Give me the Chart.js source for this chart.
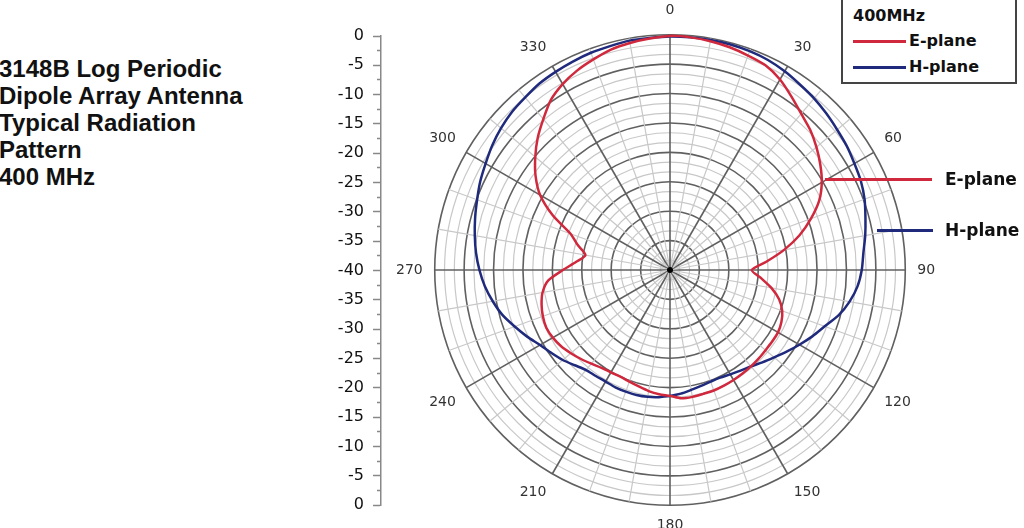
<!DOCTYPE html>
<html>
<head>
<meta charset="utf-8">
<script src="https://cdn.jsdelivr.net/npm/chart.js@4.4.0/dist/chart.umd.min.js"></script>
<style>
  html, body { margin: 0; padding: 0; background: #fff; }
  body { width: 1024px; height: 528px; position: relative; overflow: hidden; }
  #title { position: absolute; left: -1px; top: 55px; font: bold 24px "Liberation Sans", Arial, sans-serif; line-height: 27px; color: #111; }
  #axisBox { position: absolute; left: 290px; top: 0; width: 100px; height: 528px; }
  #polarBox { position: absolute; left: 392px; top: -6px; width: 548px; height: 548px; }
  #legend { position: absolute; left: 841px; top: -4px; width: 172px; height: 84px; border: 2px solid #444; background: #fff;
            font: bold 16px "DejaVu Sans", sans-serif; color: #111; }
  #legend .hd { position: absolute; left: 10px; top: 8px; }
  #legend .row { position: absolute; left: 10px; height: 20px; }
  #legend .sw { position: absolute; left: 0; top: 9px; width: 53px; height: 3px; }
  #legend .tx { position: absolute; left: 56px; top: 0; white-space: nowrap; }
  .note { position: absolute; font: bold 17px "DejaVu Sans", sans-serif; color: #111; white-space: nowrap; }
  .lead { position: absolute; height: 3px; }
</style>
</head>
<body>
<div id="title">3148B Log Periodic<br>Dipole Array Antenna<br>Typical Radiation<br>Pattern<br>400 MHz</div>

<div id="axisBox"><canvas id="axis" width="100" height="528"></canvas></div>
<div id="polarBox"><canvas id="polar" width="548" height="548"></canvas></div>

<div id="legend">
  <div class="hd">400MHz</div>
  <div class="row" style="top:33px"><div class="sw" style="background:#d0283c"></div><div class="tx">E-plane</div></div>
  <div class="row" style="top:59px"><div class="sw" style="background:#1f2a7c"></div><div class="tx">H-plane</div></div>
</div>

<div class="lead" style="left:825px; top:178px; width:107px; background:#d0283c"></div>
<div class="note" style="left:945px; top:169px">E-plane</div>
<div class="lead" style="left:877px; top:229px; width:56px; background:#1f2a7c"></div>
<div class="note" style="left:945px; top:220px">H-plane</div>

<script>
// angle of each sample, degrees clockwise from top
const angles = [0, 5, 10, 15, 20, 25, 30, 35, 40, 45, 50, 55,
    60, 65, 70, 75, 80, 85, 90, 95, 100, 105, 110, 115,
    120, 125, 130, 135, 140, 145, 150, 155, 160, 165, 170, 175,
    180, 185, 190, 195, 200, 205, 210, 215, 220, 225, 230, 235,
    240, 245, 250, 255, 260, 265, 270, 275, 280, 285, 290, 295,
    300, 305, 310, 315, 320, 325, 330, 335, 340, 345, 350, 355];

// relative level in dB
const ePlane = [-0.2, -0.3, -0.5, -0.8, -1.2, -1.6, -2.6, -4.0, -5.3, -6.3, -7.5, -8.8,
    -10.2, -12.0, -14.5, -17.2, -20.3, -23.5, -26.1, -24.5, -22.5, -20.8, -19.7, -19.1,
    -18.8, -18.8, -18.8, -18.7, -18.6, -18.5, -18.4, -18.3, -18.2, -18.2, -18.1, -18.1,
    -18.6, -18.8, -19.1, -19.5, -19.8, -20.0, -19.9, -19.7, -19.2, -18.6, -18.0, -17.4,
    -17.0, -16.8, -17.0, -17.4, -18.0, -19.2, -21.8, -24.0, -25.4, -23.8, -22.0, -18.0,
    -14.5, -12.1, -10.1, -8.2, -6.5, -4.7, -3.5, -2.6, -1.9, -1.2, -0.8, -0.5];

const hPlane = [-0.3, -0.3, -0.3, -0.3, -0.4, -0.6, -1.0, -1.5, -1.9, -2.4, -2.9, -3.3,
    -3.8, -4.2, -4.8, -5.6, -6.3, -7.0, -7.4, -8.0, -9.0, -10.3, -12.0, -13.3,
    -14.6, -15.8, -16.9, -17.8, -18.6, -19.1, -19.5, -19.8, -19.8, -19.6, -19.3, -18.9,
    -18.6, -18.3, -18.1, -18.0, -18.0, -18.0, -18.1, -18.0, -17.8, -17.1, -16.2, -15.4,
    -14.5, -13.2, -11.9, -10.5, -9.4, -8.4, -7.6, -6.9, -6.3, -5.7, -5.1, -4.4,
    -3.8, -3.1, -2.5, -2.0, -1.7, -1.3, -1.1, -0.9, -0.7, -0.6, -0.4, -0.4];

const angleLabels = ['0', '30', '60', '90', '120', '150', '180', '210', '240', '270', '300', '330'];
const axisLabels = [0, -5, -10, -15, -20, -25, -30, -35, -40, -35, -30, -25, -20, -15, -10, -5, 0];

const red = '#d0283c';
const blue = '#1f2a7c';
const dark = '#606060';
const light = '#c8c8c8';

function isMajor(v) {
    return Math.abs(v / 5 - Math.round(v / 5)) < 0.01;
}

// left dB scale, 0 at top, -40 at the middle, 0 at the bottom
const axisChart = new Chart(document.getElementById('axis'), {
    type: 'line',
    data: { labels: [], datasets: [] },
    options: {
        responsive: false,
        animation: false,
        layout: { padding: { top: 36, bottom: 23, right: 0, left: 0 } },
        plugins: { legend: { display: false }, tooltip: { enabled: false } },
        scales: {
            x: { display: false },
            y: {
                min: -40,
                max: 40,
                afterFit: (scale) => { scale.width = 91; },
                ticks: {
                    stepSize: 2.5,
                    autoSkip: false,
                    padding: 9,
                    color: '#111',
                    font: { family: 'DejaVu Sans', size: 16 },
                    callback: (v, i) => (i % 2 === 0 ? String(axisLabels[i / 2]) : '')
                },
                grid: {
                    drawOnChartArea: false,
                    tickLength: 8,
                    tickWidth: 1.5,
                    tickColor: '#888',
                    tickBorderDash: (ctx) => (ctx.index % 2 === 0 ? [] : [0, 4, 4, 100])
                },
                border: { display: true, color: '#888', width: 1.5 }
            }
        }
    }
});

const centerDot = {
    id: 'centerDot',
    beforeDatasetsDraw(chart) {
        const s = chart.scales.r;
        const c = chart.ctx;
        c.save();
        c.fillStyle = '#000';
        c.beginPath();
        c.arc(s.xCenter, s.yCenter, 3, 0, Math.PI * 2);
        c.fill();
        c.restore();
    }
};

const polar = new Chart(document.getElementById('polar'), {
    type: 'radar',
    data: {
        labels: angles,
        datasets: [
            {
                label: 'E-plane',
                data: ePlane,
                borderColor: red,
                borderWidth: 2.5,
                fill: false,
                pointRadius: 0,
                tension: 0.25
            },
            {
                label: 'H-plane',
                data: hPlane,
                borderColor: blue,
                borderWidth: 2.5,
                fill: false,
                pointRadius: 0,
                tension: 0.25
            }
        ]
    },
    options: {
        responsive: false,
        animation: false,
        plugins: { legend: { display: false }, tooltip: { enabled: false } },
        scales: {
            r: {
                min: -40,
                max: 0,
                ticks: { display: false, stepSize: 5 / 3 },
                grid: {
                    circular: true,
                    color: (ctx) => (isMajor(ctx.tick.value) ? dark : light),
                    lineWidth: (ctx) => (isMajor(ctx.tick.value) ? 1.6 : 1.2)
                },
                angleLines: {
                    color: (ctx) => (ctx.index % 6 === 0 ? dark : (ctx.index % 2 === 0 ? light : 'rgba(0,0,0,0)')),
                    lineWidth: (ctx) => (ctx.index % 6 === 0 ? 1.6 : 1.2)
                },
                pointLabels: {
                    color: '#333',
                    font: { family: 'DejaVu Sans', size: 14 },
                    padding: (ctx) => (ctx.index === 0 ? 16 : 12),
                    callback: (label, i) => (i % 6 === 0 ? angleLabels[i / 6] : '')
                }
            }
        }
    },
    plugins: [centerDot]
});
</script>
</body>
</html>
